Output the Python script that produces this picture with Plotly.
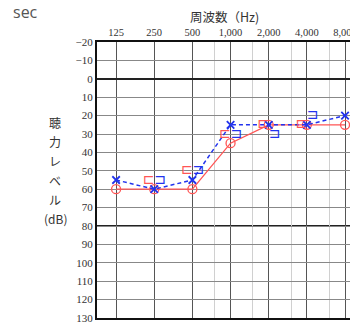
import math
import plotly.graph_objects as go

freqs = [125, 250, 500, 1000, 2000, 4000, 8000]
freq_labels = ["125", "250", "500", "1,000", "2,000", "4,000", "8,000"]
half_octaves = [750, 1500, 3000, 6000]
right_ac = [60, 60, 60, 35, 25, 25, 25]
left_ac = [55, 60, 55, 25, 25, 25, 20]
bc_freqs = [250, 500, 1000, 2000, 4000]
right_bc = [55, 50, 30, 25, 25]
left_bc = [55, 50, 30, 30, 20]
db_ticks = list(range(-20, 131, 10))
ylabel_chars = ["聴", "力", "レ", "ベ", "ル", "(dB)"]

RED = "#ff5555"
BLUE = "#2233ee"

fig = go.Figure()

fig.add_trace(go.Scatter(
    x=freqs, y=right_ac, mode="lines+markers",
    line=dict(color=RED, width=1.3),
    marker=dict(symbol="circle-open", size=9, color=RED, line=dict(width=1.3)),
    showlegend=False))
fig.add_trace(go.Scatter(
    x=freqs, y=left_ac, mode="lines+markers",
    line=dict(color=BLUE, width=1.5, dash="4px,3px"),
    marker=dict(symbol="x-thin", size=7.5, color=BLUE, line=dict(width=1.8, color=BLUE)),
    showlegend=False))
fig.add_trace(go.Scatter(
    x=bc_freqs, y=right_bc, mode="text", text=["⊏"] * len(bc_freqs),
    textposition="middle left",
    textfont=dict(color=RED, size=14, family="DejaVu Sans"),
    showlegend=False))
fig.add_trace(go.Scatter(
    x=bc_freqs, y=left_bc, mode="text", text=["⊐"] * len(bc_freqs),
    textposition="middle right",
    textfont=dict(color=BLUE, size=14, family="DejaVu Sans"),
    showlegend=False))

lo = math.log10(125) - 0.5 * math.log10(2)
hi = math.log10(8000) + 0.34 * math.log10(2)

fig.update_xaxes(
    type="log", range=[lo, hi], side="top", automargin=False,
    tickvals=freqs, ticktext=freq_labels, ticks="", ticklabeloverflow="allow",
    tickfont=dict(family="Liberation Serif", size=10.5, color="#333"),
    showgrid=True, gridcolor="#555", gridwidth=1,
    minor=dict(tickvals=half_octaves, showgrid=True, gridcolor="#d0d0d0", gridwidth=1),
    showline=True, linecolor="#111", linewidth=2, mirror=True,
    zeroline=False, fixedrange=True)
fig.update_yaxes(
    range=[130, -20], tickvals=db_ticks, ticks="", automargin=False,
    ticklabeloverflow="allow",
    tickfont=dict(family="Liberation Serif", size=11, color="#333"),
    showgrid=True, gridcolor="#888", gridwidth=1,
    zeroline=True, zerolinecolor="#222", zerolinewidth=2,
    showline=True, linecolor="#111", linewidth=2,
    fixedrange=True)

fig.add_hline(y=80, line=dict(color="#222", width=2), layer="below")

fig.add_annotation(text="周波数（Hz)", xref="paper", yref="paper",
                   x=0.487, y=1.093, xanchor="center", yanchor="middle",
                   showarrow=False,
                   font=dict(family="Noto Sans CJK JP", size=12.5, color="#333"))
fig.add_annotation(text="sec", xref="paper", yref="paper",
                   x=-0.33, y=1.109, xanchor="left", yanchor="middle",
                   showarrow=False,
                   font=dict(family="Open Sans", size=16, color="#555"))

ypos = [0.710, 0.641, 0.572, 0.500, 0.428, 0.362]
for ch, yp in zip(ylabel_chars, ypos):
    fig.add_annotation(text=ch, xref="paper", yref="paper",
                       x=-0.16, y=yp, xanchor="center", yanchor="middle",
                       showarrow=False,
                       font=dict(family="Noto Sans CJK JP", size=12, color="#333"))

fig.update_layout(
    width=350, height=315,
    margin=dict(l=89, r=0, t=34, b=5),
    paper_bgcolor="white", plot_bgcolor="white",
)

fig.write_html("out.html")
